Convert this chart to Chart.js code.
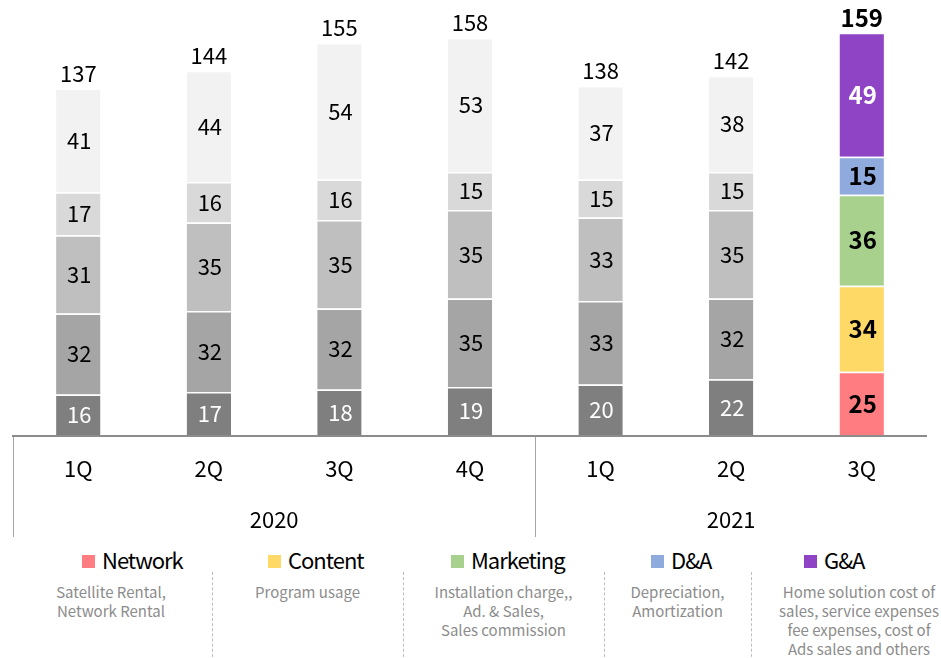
<!DOCTYPE html>
<html>
<head>
<meta charset="utf-8">
<script src="https://cdn.jsdelivr.net/npm/chart.js@4.4.0/dist/chart.umd.min.js"></script>
<style>
  body { margin: 0; background: #fff; font-family: "Noto Sans CJK KR", "Noto Sans", sans-serif; }
  #wrap { position: relative; width: 941px; height: 658px; overflow: hidden; }
  #costChart { position: absolute; left: 0; top: 0; }
  .key { position: absolute; top: 543px; font-size: 22px; color: #000; white-space: nowrap; letter-spacing: -1px; }
  .key i { display: inline-block; width: 13px; height: 13px; margin-right: 7px; vertical-align: 1px; }
  .note { position: absolute; top: 582px; font-size: 15px; line-height: 19px; color: #8c8c8c; text-align: center; }
  .sep { position: absolute; top: 572px; height: 90px; border-left: 1px dashed #bdbdbd; }
</style>
</head>
<body>
<div id="wrap">
  <canvas id="costChart" width="941" height="540"></canvas>
</div>
<script>
// quarters and the year each group of quarters belongs to
const quarters = ["1Q", "2Q", "3Q", "4Q", "1Q", "2Q", "3Q"];
const years = ["2020", "2021"];
const quartersPerYear = [4, 3];

// cost items, bottom to top of each stack
const network   = [16, 17, 18, 19, 20, 22, 25];
const content   = [32, 32, 32, 35, 33, 32, 34];
const marketing = [31, 35, 35, 35, 33, 35, 36];
const depAmort  = [17, 16, 16, 15, 15, 15, 15];
const genAdmin  = [41, 44, 54, 53, 37, 38, 49];
const totals    = [137, 144, 155, 158, 138, 142, 159];

const itemNames = ["Network", "Content", "Marketing", "D&A", "G&A"];
const itemNotes = [
  "Satellite Rental,\nNetwork Rental",
  "Program usage",
  "Installation charge,,\nAd. & Sales,\nSales commission",
  "Depreciation,\nAmortization",
  "Home solution cost of\nsales, service expenses\nfee expenses, cost of\nAds sales and others"
];

const greys  = ["#7f7f7f", "#a5a5a5", "#bfbfbf", "#d9d9d9", "#f2f2f2"];
const colors = ["#ff7c80", "#ffd966", "#a9d18e", "#8faadc", "#8e44c4"];
const series = [network, content, marketing, depAmort, genAdmin];
const last = quarters.length - 1;

const FONT = '"Noto Sans CJK KR", "Noto Sans", sans-serif';

const datasets = series.map((values, s) => ({
  label: itemNames[s],
  data: values,
  backgroundColor: values.map((v, i) => i === last ? colors[s] : greys[s]),
  borderColor: "#ffffff",
  borderWidth: { top: 1.5, bottom: 0, left: 0, right: 0 },
  borderSkipped: false,
  categoryPercentage: 1,
  barPercentage: 0.34
}));

// value labels inside the segments and totals on top
const valueLabels = {
  id: "valueLabels",
  afterDatasetsDraw(chart) {
    const ctx = chart.ctx;
    ctx.save();
    ctx.textAlign = "center";
    ctx.textBaseline = "middle";
    chart.data.datasets.forEach((ds, s) => {
      chart.getDatasetMeta(s).data.forEach((bar, i) => {
        const bold = i === last;
        let color = "#000";
        if (s === 0 && !bold) color = "#fff";
        if (s === 4 && bold) color = "#fff";
        ctx.fillStyle = color;
        ctx.font = (bold ? "bold 24px " : "22px ") + FONT;
        ctx.fillText(ds.data[i], bar.x + 1, (bar.y + bar.base) / 2);
      });
    });
    const top = chart.getDatasetMeta(series.length - 1).data;
    top.forEach((bar, i) => {
      ctx.fillStyle = "#000";
      ctx.font = (i === last ? "bold 24px " : "22px ") + FONT;
      ctx.fillText(totals[i], bar.x, bar.y - 15);
    });
    ctx.restore();
  }
};

// axis line, year dividers and year labels under the quarters
const yearAxis = {
  id: "yearAxis",
  afterDraw(chart) {
    const ctx = chart.ctx;
    const area = chart.chartArea;
    const x = chart.scales.x;
    const bottom = area.bottom + 102;
    ctx.save();
    ctx.strokeStyle = "#8c8c8c";
    ctx.lineWidth = 2;
    ctx.beginPath();
    ctx.moveTo(area.left - 1, area.bottom + 1);
    ctx.lineTo(area.right, area.bottom + 1);
    ctx.stroke();
    ctx.lineWidth = 1;
    ctx.strokeStyle = "#a6a6a6";
    let start = 0;
    ctx.fillStyle = "#000";
    ctx.font = "22px " + FONT;
    ctx.textAlign = "center";
    ctx.textBaseline = "middle";
    years.forEach((yr, g) => {
      const end = start + quartersPerYear[g] - 1;
      const half = (x.getPixelForValue(1) - x.getPixelForValue(0)) / 2;
      const left = x.getPixelForValue(start) - half;
      const right = x.getPixelForValue(end) + half;
      ctx.beginPath();
      ctx.moveTo(Math.round(left) + 0.5, area.bottom + 2);
      ctx.lineTo(Math.round(left) + 0.5, bottom);
      ctx.stroke();
      ctx.fillText(yr, (left + right) / 2, area.bottom + 85);
      start = end + 1;
    });
    ctx.restore();
  }
};

new Chart(document.getElementById("costChart"), {
  type: "bar",
  data: { labels: quarters, datasets },
  options: {
    responsive: false,
    animation: false,
    layout: { padding: { left: 13, right: 14, top: 5, bottom: 0 } },
    plugins: { legend: { display: false }, tooltip: { enabled: false } },
    scales: {
      x: {
        stacked: true,
        grid: { display: false, drawTicks: false },
        border: { display: false },
        ticks: { color: "#000", font: { family: FONT, size: 22 }, padding: 20 },
        afterFit: axis => { axis.height = 105; }
      },
      y: {
        stacked: true,
        display: false,
        min: 0,
        max: 170
      }
    }
  },
  plugins: [valueLabels, yearAxis]
});

// legend row and descriptions below the chart
const wrap = document.getElementById("wrap");
const keyLeft = [82, 268, 451, 651, 804];
const noteBox = [[0, 222], [212, 191], [403, 201], [604, 147], [751, 216]];
const seps = [212, 403, 604, 751];

itemNames.forEach((name, s) => {
  const key = document.createElement("div");
  key.className = "key";
  key.style.left = keyLeft[s] + "px";
  key.innerHTML = `<i style="background:${colors[s]}"></i>${name.replace("&", "&amp;")}`;
  wrap.appendChild(key);

  const note = document.createElement("div");
  note.className = "note";
  note.style.left = noteBox[s][0] + "px";
  note.style.width = noteBox[s][1] + "px";
  note.innerText = itemNotes[s];
  wrap.appendChild(note);
});
seps.forEach(x => {
  const d = document.createElement("div");
  d.className = "sep";
  d.style.left = x + "px";
  wrap.appendChild(d);
});
</script>
</body>
</html>
